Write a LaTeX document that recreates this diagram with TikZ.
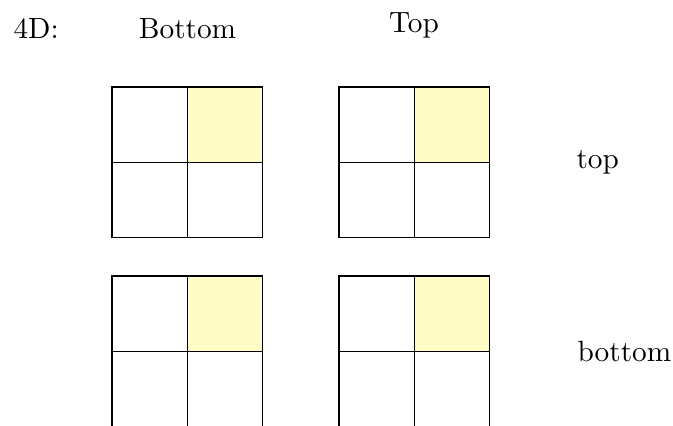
\documentclass[tikz,border=0pt]{standalone}
\begin{document}
\begin{tikzpicture}[x=0.012cm,y=-0.012cm,
  lbl/.style={inner sep=0pt,font=\normalsize},
  cell/.style={draw=black,line width=0.45pt},
  hot/.style={cell,fill=yellow!22}]
\useasboundingbox (0,0) rectangle (673,426);
\clip (0,0) rectangle (673,426);
\def\cs{75.4}
% grids
\foreach \gx/\gy in {112/87,339/87,112/276,339/276}{
  \fill[yellow!22] (\gx+\cs,\gy) rectangle (\gx+2*\cs,\gy+\cs);
  \draw[cell] (\gx,\gy) rectangle (\gx+\cs,\gy+\cs);
  \draw[cell] (\gx+\cs,\gy) rectangle (\gx+2*\cs,\gy+\cs);
  \draw[cell] (\gx,\gy+\cs) rectangle (\gx+\cs,\gy+2*\cs);
  \draw[cell] (\gx+\cs,\gy+\cs) rectangle (\gx+2*\cs,\gy+2*\cs);
}
\node[lbl,anchor=base west] (fd) at (13,39) {4D:};
\node[lbl,anchor=base] (hb) at (187.5,39) {Bottom};
\node[lbl,anchor=base] (ht) at (414,33) {Top};
\node[lbl,anchor=west] (rt) at (576,162.5) {top};
\node[lbl,anchor=west] (rb) at (577,351) {bottom};
\end{tikzpicture}
\end{document}
